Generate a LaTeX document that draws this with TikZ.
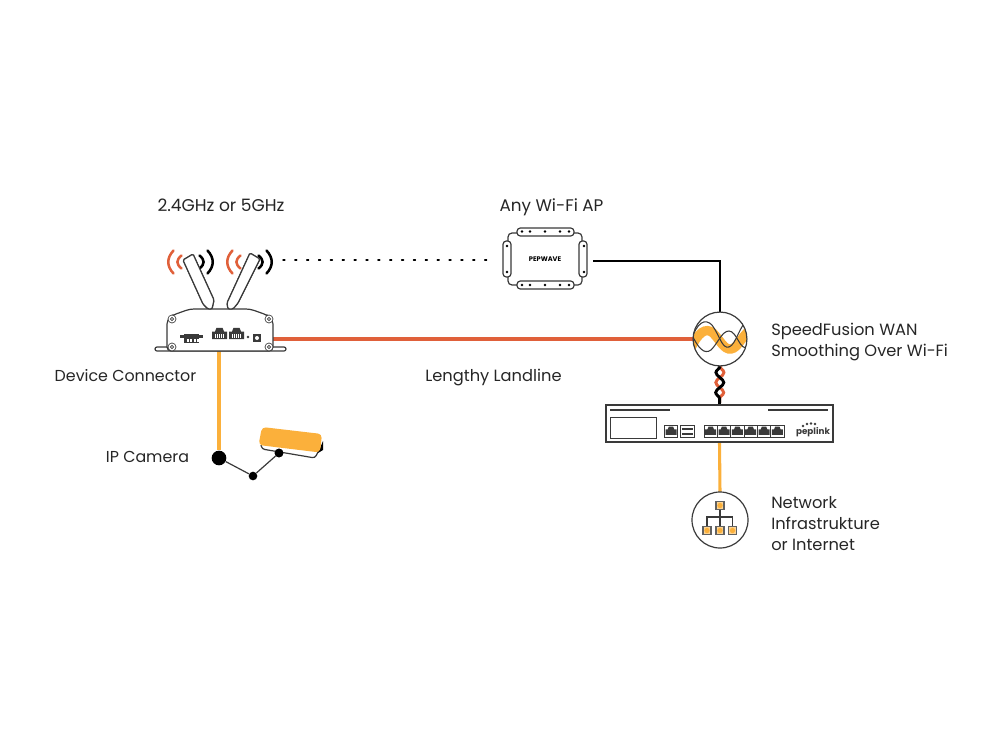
\documentclass[tikz,border=0pt]{standalone}
\usepackage{fontspec}
\setmainfont{Poppins}
\usepackage{xcolor}
\usetikzlibrary{positioning,shapes.geometric,arrows.meta,calc,decorations.pathmorphing}
\definecolor{pepyellow}{HTML}{FBB03B}
\definecolor{peporange}{HTML}{E0603A}
\definecolor{pepgrey}{HTML}{3A3A3A}
\tikzset{
    lbl/.style={font=\fontsize{12.2}{15.75}\selectfont, inner sep=0pt, text=black!85},
    lblbase/.style={lbl, anchor=base},
    lblleft/.style={lbl, align=left, anchor=west},
    outline/.style={draw=pepgrey, line width=0.9pt, fill=white},
    screw/.style={draw=pepgrey, line width=0.5pt, fill=white},
    joint/.style={circle, fill=black, inner sep=0pt},
    nettile/.style={draw=pepgrey!80, line width=1pt, fill=pepyellow!55, minimum size=6pt, inner sep=0pt},
    portbox/.style={draw=pepgrey, line width=0.7pt, fill=white, minimum width=10pt, minimum height=9pt, inner sep=0pt},
    wave/.style={line width=0.8pt, draw=pepgrey},
}
% RJ45 socket, #1 = centre, #2 = size
\newcommand{\rjsocket}[2]{
    \begin{scope}[shift={#1}, scale=#2]
        \fill[pepgrey] (-5,4) -- (-5,-1) -- (-3,-1) -- (-2,-3.5) -- (2,-3.5) -- (3,-1) -- (5,-1) -- (5,4) -- cycle;
    \end{scope}
}
\begin{document}
\begin{tikzpicture}[x=0.75pt,y=-0.75pt]
    \useasboundingbox (0,0) rectangle (1000,750);

    % labels
    \node[lblbase, font=\fontsize{12.8}{15.75}\selectfont] (band) at (221,211) {2.4GHz or 5GHz};
    \node[lblbase, font=\fontsize{12.6}{15.75}\selectfont] (aplabel) at (551.5,211) {Any Wi-Fi AP};
    \node[lblbase, font=\fontsize{11.9}{15.75}\selectfont] (devlabel) at (125.5,381) {Device Connector};
    \node[lblbase] (linelabel) at (493.5,381) {Lengthy Landline};
    \node[lblbase, font=\fontsize{11.9}{15.75}\selectfont] (camlabel) at (147.5,462) {IP Camera};
    \node[lblleft] (sflabel) at (771,342) {SpeedFusion WAN\\Smoothing Over Wi-Fi};
    \node[lblleft] (netlabel) at (771,524) {Network\\Infrastrukture\\or Internet};

    % anchor points of the main parts
    \node[circle, minimum size=40.5pt, inner sep=0pt] (sf) at (720,339) {};
    \node[circle, minimum size=42pt, inner sep=0pt] (net) at (720,520) {};
    \node[rectangle, minimum width=170pt, minimum height=28pt, inner sep=0pt] (balance) at (719.5,424) {};
    \node[rectangle, minimum width=80.5pt, minimum height=39pt, inner sep=0pt] (ap) at (545,259) {};
    \node[rectangle, minimum width=79pt, minimum height=33pt, inner sep=0pt] (router) at (220,335) {};
    \node[joint, minimum size=11pt] (ball) at (219,458) {};
    \node[joint, minimum size=6.5pt] (elbow) at (253,476) {};
    \node[joint, minimum size=6.5pt] (mount) at (279,453) {};
    \coordinate (dotstart) at (283,260);
    \coordinate (dotend) at (496,260);
    \coordinate (apcorner) at (720,261);
    \coordinate (apout) at (593,261);

    % connectors
    \draw[peporange, line width=2.4pt] (router.east |- 0,339) -- (sf.west |- 0,339);
    \draw[pepyellow, line width=2.3pt] (219,350) -- (ball.north);
    \draw[pepyellow, line width=2.3pt] (balance.south) -- (net.north);
    \draw[black, line width=1.8pt] (apout) -- (apcorner) -- (sf.north);
    \draw[line width=1.1pt, black, dash pattern=on 1.4pt off 7.5pt, line cap=round] (dotstart) -- (dotend);
    \draw[peporange, line width=2.2pt, decorate, decoration={snake, segment length=15pt, amplitude=3pt}] (sf.south) -- (balance.north);
    \draw[black, line width=2.2pt, decorate, decoration={snake, segment length=15pt, amplitude=-3pt}] (sf.south) -- (balance.north);

    % device connector
    \draw[outline, rounded corners=1pt] (183,260) -- (193,254) -- (214,300) -- (212,309) -- (208,309) -- (203,304) -- cycle;
    \draw[outline, rounded corners=1pt] (250,253) -- (260,259) -- (238,303) -- (233,309) -- (228,309) -- (227,303) -- cycle;
    \draw[outline, rounded corners=1.5pt] (155,347) rectangle (286,351);
    \draw[outline, rounded corners=3pt] (167,351) -- (167,320) -- (173,315) -- (190,309) -- (250,309) -- (267,315) -- (273,320) -- (273,351) -- cycle;
    \foreach \sx/\sy in {172/319, 269/319, 172/347, 269/347} {
        \draw[screw] (\sx,\sy) circle (3pt);
        \draw[screw] (\sx,\sy) circle (1.2pt);
    }
    \fill[pepgrey] (184,334) rectangle (199,343);
    \fill[pepgrey] (180,335) rectangle (203,338);
    \foreach \px in {186.5,190,193.5,197} {
        \fill[white] (\px,339) rectangle +(2,2.5);
    }
    \foreach \rx in {219.5,236.5} {
        \rjsocket{(\rx,333)}{1.5}
        \foreach \pinx in {-4.5,-2.5,-0.5,1.5,3.5} {
            \fill[white] (\rx+\pinx,334) rectangle +(1,4);
        }
    }
    \fill[pepgrey] (248,337) circle (1.1pt);
    \fill[pepgrey] (253,334) rectangle (261,342);
    \fill[white] (257,338) circle (1.5pt);

    % signal arcs
    \foreach \cx/\col/\sgn in {190.5/peporange/-1, 190.5/black/1, 249.5/peporange/-1, 249.5/black/1} {
        \draw[\col, line width=1.9pt, line cap=round] (\cx+\sgn*9,255.5) .. controls (\cx+\sgn*14.5,260) and (\cx+\sgn*14.5,264) .. (\cx+\sgn*9,268.5);
        \draw[\col, line width=1.9pt, line cap=round] (\cx+\sgn*17,250.5) .. controls (\cx+\sgn*24,258) and (\cx+\sgn*24,266) .. (\cx+\sgn*17,273.5);
    }
    % antennas stay on top of the inner arcs
    \draw[outline, rounded corners=1pt] (183,260) -- (193,254) -- (214,300) -- (212,309) -- (208,309) -- (203,304) -- cycle;
    \draw[outline, rounded corners=1pt] (250,253) -- (260,259) -- (238,303) -- (233,309) -- (228,309) -- (227,303) -- cycle;

    % camera
    \draw[pepgrey, line width=0.9pt] (ball) -- (elbow) -- (mount);
    \draw[pepgrey, line width=0.9pt, rounded corners=2pt] (261,445) -- (262,449) -- (315,458) -- (319,450);
    \fill[black] (323,441) -- (323,450) -- (318,453) -- cycle;
    \fill[pepyellow, rounded corners=3pt] (262,427) -- (322,434) -- (320,452.5) -- (258.5,445) -- cycle;
    \node[joint, minimum size=6.5pt] at (mount) {};

    % access point
    \draw[outline, rounded corners=3pt] (508,233) rectangle (582,285);
    \draw[outline, rounded corners=2.5pt] (517,228) rectangle (574,236);
    \draw[outline, rounded corners=2.5pt] (517,281) rectangle (574,289);
    \draw[outline, rounded corners=2.5pt] (503,241) rectangle (511,277);
    \draw[outline, rounded corners=2.5pt] (579,241) rectangle (587,277);
    \foreach \hx in {522,530,545,560,569} {
        \fill[black] (\hx,231.5) circle (1.1pt);
        \fill[black] (\hx,285) circle (1.1pt);
    }
    \foreach \vx in {507,584} {
        \fill[black] (\vx,246) circle (1.1pt);
        \fill[black] (\vx,272) circle (1.1pt);
    }
    \node[font=\fontsize{5}{5}\selectfont\bfseries, inner sep=0pt] (apname) at (545,259) {PEPWAVE};

    % speedfusion circle
    \draw[fill=white, draw=none] (sf.center) circle (20.2pt);
    \begin{scope}
        \clip (sf.center) circle (20.2pt);
        \draw[pepyellow, line width=7pt] (690,350) .. controls (698,332) and (706,327) .. (713,333) .. controls (720,340) and (724,350) .. (731,349) .. controls (738,348) and (742,336) .. (750,330);
        \draw[wave] (691,341) .. controls (697,322) and (705,318) .. (712,325) .. controls (720,336) and (722,349) .. (729,347) .. controls (736,345) and (740,324) .. (748,320);
        \draw[wave] (691,333) .. controls (698,348) and (704,355) .. (711,350) .. controls (718,343) and (722,331) .. (729,331) .. controls (737,331) and (740,352) .. (748,347);
    \end{scope}
    \draw[wave, line width=0.9pt] (sf.center) circle (20.2pt);

    % balance router
    \draw[outline, line width=1pt] (606,405) rectangle (833,442);
    \draw[pepgrey, line width=0.9pt] (610,410) -- (670,410);
    \draw[pepgrey, line width=0.9pt] (768,410) -- (828,410);
    \draw[outline, line width=0.7pt] (610,417) rectangle (656,438);
    \node[portbox] (wan) at (671,431) {};
    \rjsocket{(671,430.5)}{1.1}
    \node[portbox] (usb) at (687.5,431) {};
    \fill[pepgrey] (682,427.5) rectangle (693,430);
    \fill[pepgrey] (682,432.5) rectangle (693,435);
    \foreach \i in {0,...,5} {
        \node[portbox] (lan\i) at ({710.7+\i*13.33},431) {};
        \rjsocket{({710.7+\i*13.33},430.5)}{1.1}
    }
    \node[font=\fontsize{6.6}{7}\selectfont\bfseries, inner sep=0pt, text=pepgrey] (brand) at (813,432.5) {peplink};
    \foreach \dx/\dy in {803/426, 807/424, 811/423.5, 815/424} {
        \fill[pepgrey] (\dx,\dy) circle (1pt);
    }

    % network circle
    \draw[wave, line width=0.9pt] (net.center) circle (21pt);
    \draw[pepgrey, line width=0.8pt] (720,509) -- (720,527);
    \draw[pepgrey, line width=0.8pt] (707,527) -- (707,517) -- (732.5,517) -- (732.5,527);
    \node[nettile] (tiletop) at (720,505.5) {};
    \node[nettile] (tilea) at (707,530.5) {};
    \node[nettile] (tileb) at (720,530.5) {};
    \node[nettile] (tilec) at (732.5,530.5) {};
    \foreach \t in {tiletop,tilea,tileb,tilec} {
        \fill[pepyellow] (\t) circle (2pt);
    }
\end{tikzpicture}
\end{document}
